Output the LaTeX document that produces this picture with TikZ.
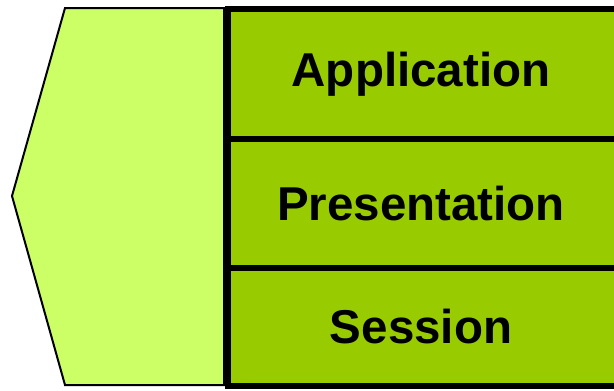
\documentclass[tikz,border=0pt]{standalone}
\usepackage{fontspec}
\setmainfont{Liberation Sans}
\definecolor{lightgreen}{HTML}{CCFF66}
\definecolor{darkgreen}{HTML}{99CC00}
\tikzset{
  layer/.style={draw=black, fill=darkgreen, line width=6pt, rectangle,
    minimum width=400pt, inner sep=0pt, outer sep=0pt,
    execute at begin node={\hspace*{-14pt}},
    font=\fontsize{47.5}{52}\selectfont\bfseries},
  side/.style={draw=black, fill=lightgreen, line width=2pt, line join=miter}
}
\begin{document}
\begin{tikzpicture}[x=1pt, y=-1pt]
\useasboundingbox (0,0) rectangle (614,391);
\draw[side] (65,8) -- (224,8) -- (224,385) -- (65,385) -- (12,196) -- cycle;
\node[layer, minimum height=129.5pt] (app) at (428,74) {Application};
\node[layer, minimum height=129pt] (pres) at (428,203.5) {Presentation};
\node[layer, minimum height=118pt] (sess) at (428,327) {Session};
\end{tikzpicture}
\end{document}
